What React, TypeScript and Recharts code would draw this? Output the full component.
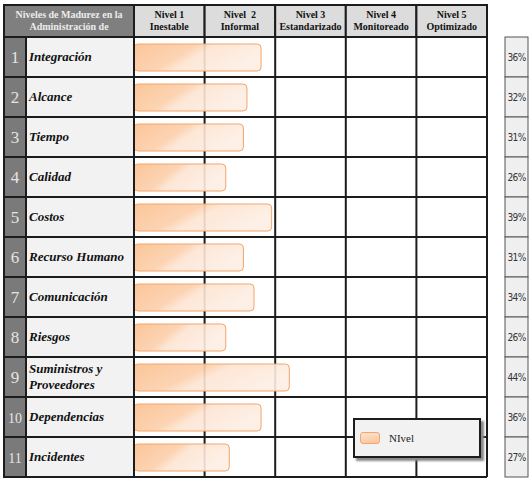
import React from "react";
import { BarChart, Bar, XAxis, YAxis, CartesianGrid, Legend } from "recharts";

// rows of the maturity table
const categories = [
  "Integración",
  "Alcance",
  "Tiempo",
  "Calidad",
  "Costos",
  "Recurso Humano",
  "Comunicación",
  "Riesgos",
  "Suministros y Proveedores",
  "Dependencias",
  "Incidentes",
];
const nivelValues = [36, 32, 31, 26, 39, 31, 34, 26, 44, 36, 27];
const levelTicks = [0, 20, 40, 60, 80, 100];
const headerLines = [
  ["Nivel 1", "Inestable"],
  ["Nivel  2", "Informal"],
  ["Nivel 3", "Estandarizado"],
  ["Nivel 4", "Monitoreado"],
  ["Nivel 5", "Optimizado"],
];
const cornerLines = ["Niveles de Madurez en la", "Administración de"];
const seriesName = "NIvel";

const data = categories.map((name, i) => ({ name, nivel: nivelValues[i] }));

const SERIF = "'Liberation Serif', 'DejaVu Serif', serif";
const LINE = "#1c1c1c";
const LABEL_W = 130;
const NUM_W = 22;
const HEADER_H = 32;

const wrap = (s: string, max = 15) => {
  const out: string[] = [];
  let cur = "";
  s.split(" ").forEach((w) => {
    const next = cur ? `${cur} ${w}` : w;
    if (next.length > max && cur) {
      out.push(cur);
      cur = w;
    } else cur = next;
  });
  if (cur) out.push(cur);
  return out;
};

const RowTick = (props: any) => {
  const { x, y, payload, index } = props;
  const rowH = payload?.offset ? payload.offset * 2 : 40;
  const top = y - rowH / 2;
  const lines = wrap(String(payload.value));
  return (
    <g>
      <rect x={x - LABEL_W} y={top} width={NUM_W} height={rowH} fill="#7a7a7a" stroke={LINE} strokeWidth={2} />
      <rect x={x - LABEL_W + NUM_W} y={top} width={LABEL_W - NUM_W} height={rowH} fill="#f2f2f2" stroke={LINE} strokeWidth={2} />
      <text
        x={x - LABEL_W + NUM_W / 2}
        y={y + 6}
        textAnchor="middle"
        fill="#e4e4e4"
        fontSize={index >= 9 ? 14 : 17}
        fontFamily={SERIF}
      >
        {index + 1}
      </text>
      <text fontFamily={SERIF} fontSize={13} fontWeight="bold" fontStyle="italic" fill="#111">
        {lines.map((l, k) => (
          <tspan key={k} x={x - LABEL_W + NUM_W + 3} y={y + 4 + (k - (lines.length - 1) / 2) * 16}>
            {l}
          </tspan>
        ))}
      </text>
    </g>
  );
};

// header cells sit to the right of each level boundary tick
const HeaderTick = (props: any) => {
  const { x, y, index, width } = props;
  if (index >= headerLines.length) return <g />;
  const colW = width ? width / headerLines.length : 70.6;
  const [l1, l2] = headerLines[index];
  const top = y - HEADER_H;
  return (
    <g>
      {index === 0 && (
        <g>
          <rect x={x - LABEL_W} y={top} width={LABEL_W} height={HEADER_H} fill="#7f7f7f" stroke={LINE} strokeWidth={2} />
          <text fontFamily={SERIF} fontSize={10} fontWeight="bold" fill="#ececec" textAnchor="middle">
            <tspan x={x - LABEL_W / 2} y={top + 13}>{cornerLines[0]}</tspan>
            <tspan x={x - LABEL_W / 2} y={top + 25}>{cornerLines[1]}</tspan>
          </text>
        </g>
      )}
      <rect x={x} y={top} width={colW} height={HEADER_H} fill="#dcdcdc" stroke={LINE} strokeWidth={2} />
      <text fontFamily={SERIF} fontSize={10} fontWeight="bold" fill="#111" textAnchor="middle">
        <tspan x={x + colW / 2} y={top + 13} style={{ whiteSpace: "pre" }}>{l1}</tspan>
        <tspan x={x + colW / 2} y={top + 25}>{l2}</tspan>
      </text>
    </g>
  );
};

const PctTick = (props: any) => {
  const { x, y, payload } = props;
  const rowH = payload?.offset ? payload.offset * 2 : 40;
  const i = categories.indexOf(payload.value);
  return (
    <g>
      <rect x={x + 18} y={y - rowH / 2} width={23} height={rowH} fill="#efefef" stroke="#555" strokeWidth={1} />
      <text
        x={x + 29.5}
        y={y + 4}
        textAnchor="middle"
        fontSize={10}
        letterSpacing={-0.6}
        fill="#333"
        fontFamily="'Liberation Sans Narrow', 'DejaVu Sans Condensed', 'Liberation Sans', sans-serif"
      >
        {`${nivelValues[i]}%`}
      </text>
    </g>
  );
};

const LegendBox = ({ payload }: any) => (
  <div
    style={{
      width: 128,
      height: 40,
      boxSizing: "border-box",
      border: `2px solid ${LINE}`,
      background: "#f2f2f2",
      boxShadow: "3px 3px 2px #8a8a8a",
      display: "flex",
      alignItems: "center",
      paddingLeft: 5,
    }}
  >
    <span
      style={{
        width: 18,
        height: 10,
        borderRadius: 3,
        border: "1px solid #f3a56b",
        background: "linear-gradient(170deg, #fde3cf, #fbc49a)",
        display: "inline-block",
      }}
    />
    <span style={{ marginLeft: 9, fontFamily: SERIF, fontSize: 11, color: "#222" }}>
      {payload?.[0]?.value ?? seriesName}
    </span>
  </div>
);

export default function App() {
  return (
    <div style={{ position: "absolute", left: 0, top: 0, background: "#fff" }}>
      <BarChart
        width={531}
        height={493}
        data={data}
        layout="vertical"
        margin={{ top: 5, right: 0, bottom: 16, left: 4 }}
      >
        <defs>
          <linearGradient id="barGrad" x1="0" y1="0" x2="1" y2="0.35">
            <stop offset="0%" stopColor="#fbbf8d" />
            <stop offset="45%" stopColor="#fccfab" />
            <stop offset="58%" stopColor="#fde4d2" />
            <stop offset="100%" stopColor="#fdeee3" />
          </linearGradient>
        </defs>
        <CartesianGrid
          stroke={LINE}
          strokeWidth={2}
          horizontalCoordinatesGenerator={({ offset }: any) =>
            Array.from({ length: categories.length + 1 }, (_, i) => offset.top + (i * offset.height) / categories.length)
          }
        />
        <XAxis
          type="number"
          orientation="top"
          domain={[0, 100]}
          ticks={levelTicks}
          interval={0}
          height={HEADER_H}
          tickSize={0}
          tickMargin={0}
          axisLine={false}
          tickLine={false}
          tick={<HeaderTick />}
        />
        <YAxis
          type="category"
          dataKey="name"
          width={LABEL_W}
          interval={0}
          tickSize={0}
          tickMargin={0}
          axisLine={false}
          tickLine={false}
          tick={<RowTick />}
        />
        <YAxis
          yAxisId="pct"
          type="category"
          dataKey="name"
          orientation="right"
          width={44}
          interval={0}
          tickSize={0}
          tickMargin={0}
          axisLine={false}
          tickLine={false}
          tick={<PctTick />}
        />
        <Bar
          dataKey="nivel"
          name={seriesName}
          barSize={27}
          fill="url(#barGrad)"
          fillOpacity={0.9}
          stroke="#f3a56b"
          strokeWidth={1}
          radius={4}
          isAnimationActive={false}
        />
        <Legend
          layout="horizontal"
          verticalAlign="middle"
          align="center"
          wrapperStyle={{ position: "absolute", left: 353, top: 418, width: 128, height: 40 }}
          content={<LegendBox />}
        />
      </BarChart>
    </div>
  );
}
